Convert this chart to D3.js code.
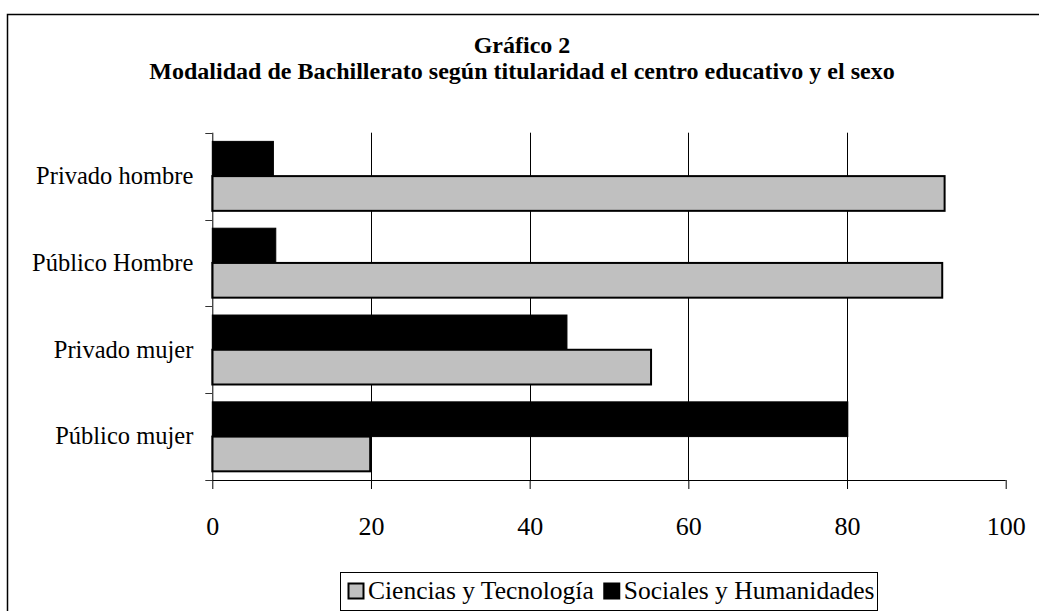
<!DOCTYPE html>
<html>
<head>
<meta charset="utf-8">
<script src="https://cdn.jsdelivr.net/npm/d3@7"></script>
<style>
  html, body { margin: 0; padding: 0; background: #fff; }
  svg { display: block; font-family: "Liberation Serif", "Times New Roman", serif; }
</style>
</head>
<body>
<svg id="chart" width="1039" height="611"></svg>
<script>
const categories = ["Privado hombre", "Público Hombre", "Privado mujer", "Público mujer"];
const seriesNames = ["Ciencias y Tecnología", "Sociales y Humanidades"];
const ciencias = [92.3, 92.0, 55.3, 19.9];
const sociales = [7.7, 8.0, 44.7, 80.1];
const xTicks = [0, 20, 40, 60, 80, 100];
const titleLine1 = "Gráfico 2";
const titleLine2 = "Modalidad de Bachillerato según titularidad el centro educativo y el sexo";

const FONT = "\"Liberation Serif\", \"Times New Roman\", serif";
const svg = d3.select("#chart");

// outer frame
svg.append("rect").attr("x", 7.5).attr("y", 14.5).attr("width", 1100).attr("height", 700)
  .attr("fill", "none").attr("stroke", "#000").attr("stroke-width", 1.5);

const plot = { left: 212.3, right: 1005.7, top: 132.7, bottom: 480 };

const x = d3.scaleLinear().domain([0, 100]).range([plot.left, plot.right]);
const y = d3.scaleBand().domain(categories).range([plot.top, plot.bottom]).paddingInner(0).paddingOuter(0);
const inner = d3.scaleBand().domain(["sociales", "ciencias"]).range([0, y.bandwidth()]).paddingOuter(0.25).paddingInner(0);

// gridlines
svg.append("g").selectAll("line").data(xTicks.filter(d => d > 0 && d < 100)).join("line")
  .attr("x1", d => Math.round(x(d)) + 0.5).attr("x2", d => Math.round(x(d)) + 0.5)
  .attr("y1", plot.top).attr("y2", plot.bottom)
  .attr("stroke", "#000").attr("stroke-width", 1);

// bars
const rows = categories.map((c, i) => ({ cat: c, ciencias: ciencias[i], sociales: sociales[i] }));
const g = svg.append("g");
rows.forEach(r => {
  g.append("rect")
    .attr("x", x(0)).attr("y", y(r.cat) + inner("sociales"))
    .attr("width", x(r.sociales) - x(0)).attr("height", inner.bandwidth())
    .attr("fill", "#000").attr("stroke", "#000").attr("stroke-width", 1);
  g.append("rect")
    .attr("x", x(0)).attr("y", y(r.cat) + inner("ciencias"))
    .attr("width", x(r.ciencias) - x(0)).attr("height", inner.bandwidth())
    .attr("fill", "#c0c0c0").attr("stroke", "#000").attr("stroke-width", 2);
});

// x axis
const xAxis = svg.append("g").attr("transform", `translate(0,${plot.bottom})`)
  .call(d3.axisBottom(x).tickValues(xTicks).tickSize(9).tickPadding(28).tickFormat(d3.format("d")));
xAxis.attr("font-family", FONT);
xAxis.select(".domain").attr("stroke", "#000").attr("d", `M${plot.left},0.5H${plot.right}`);
xAxis.selectAll(".tick line").attr("stroke", "#000");
xAxis.selectAll(".tick text").attr("font-size", 26).attr("fill", "#000");

// y axis
const yAxis = svg.append("g").attr("transform", `translate(${plot.left},0)`)
  .call(d3.axisLeft(y).tickSize(0).tickPadding(19));
yAxis.attr("font-family", FONT);
yAxis.select(".domain").attr("stroke", "#000").attr("d", `M0.5,${plot.top}V${plot.bottom}`);
yAxis.selectAll(".tick text").attr("font-size", 24.5).attr("fill", "#000");
// category boundary ticks
const bounds = categories.map(c => y(c)).concat([plot.bottom]);
yAxis.append("g").selectAll("line").data(bounds).join("line")
  .attr("x1", -7).attr("x2", 0).attr("y1", d => Math.round(d) + 0.5).attr("y2", d => Math.round(d) + 0.5)
  .attr("stroke", "#333");

// title
const cx = 522;
const t1 = svg.append("text").attr("x", cx).attr("y", 53).attr("text-anchor", "middle")
  .attr("font-weight", "bold").attr("font-size", 20).text(titleLine1);
const t2 = svg.append("text").attr("x", cx).attr("y", 79).attr("text-anchor", "middle")
  .attr("font-weight", "bold").attr("font-size", 20).text(titleLine2);
const w2 = t2.node().getComputedTextLength();
const fs = 20 * 746 / w2;
t2.attr("font-size", fs);
t1.attr("font-size", fs);

// legend
const leg = svg.append("g");
const legX = 340, legY = 572, legH = 38, legW = 537;
leg.append("rect").attr("x", legX + 0.5).attr("y", legY + 0.5).attr("width", legW).attr("height", legH)
  .attr("fill", "#fff").attr("stroke", "#000").attr("stroke-width", 1);
let cur = legX + 8;
const legFills = ["#c0c0c0", "#000"];
seriesNames.forEach((n, i) => {
  leg.append("rect").attr("x", cur + 0.5).attr("y", legY + 11.5).attr("width", 15).attr("height", 15)
    .attr("fill", legFills[i]).attr("stroke", "#000").attr("stroke-width", 2);
  const t = leg.append("text").attr("x", cur + 20).attr("y", legY + 27).attr("font-size", 25.5).text(n);
  cur = cur + 20 + t.node().getComputedTextLength() + 10;
});
</script>
</body>
</html>
